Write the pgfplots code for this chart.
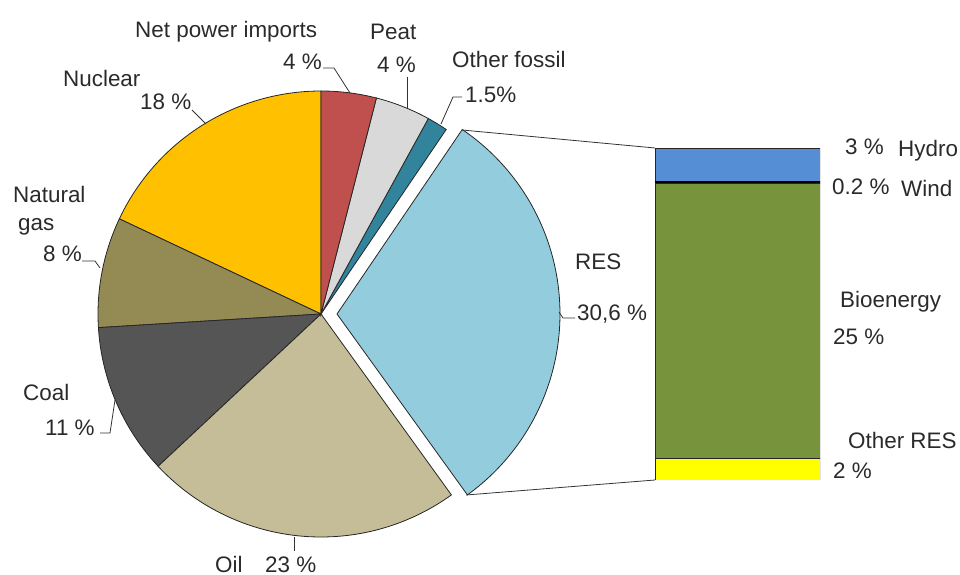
\documentclass[border=0pt]{standalone}
\usepackage{pgfplots}
\pgfplotsset{compat=1.18}
\usepackage{fontspec}
\setmainfont{Liberation Sans}

\definecolor{cNuc}{HTML}{FFC000}
\definecolor{cImp}{HTML}{C0504D}
\definecolor{cPeat}{HTML}{D9D9D9}
\definecolor{cOF}{HTML}{31849B}
\definecolor{cRES}{HTML}{93CDDD}
\definecolor{cOil}{HTML}{C4BD97}
\definecolor{cCoal}{HTML}{555555}
\definecolor{cGas}{HTML}{948A54}
\definecolor{cHydro}{HTML}{558ED5}
\definecolor{cBio}{HTML}{77933C}
\definecolor{cORES}{HTML}{FFFF00}
\definecolor{txt}{HTML}{2A2A2A}

% pie shares (%)
\def\vNuc{18}\def\vGas{8}\def\vCoal{11}\def\vOil{23}
\def\vRES{30.6}\def\vOF{1.5}\def\vPeat{4}\def\vImp{4}
\pgfmathsetmacro\k{360/(\vNuc+\vGas+\vCoal+\vOil+\vRES+\vOF+\vPeat+\vImp)}
\pgfmathsetmacro\aA{90}
\pgfmathsetmacro\aB{\aA+\vNuc*\k}
\pgfmathsetmacro\aC{\aB+\vGas*\k}
\pgfmathsetmacro\aD{\aC+\vCoal*\k}
\pgfmathsetmacro\aE{\aD+\vOil*\k}
\pgfmathsetmacro\aF{\aE+\vRES*\k}
\pgfmathsetmacro\aG{\aF+\vOF*\k}
\pgfmathsetmacro\aH{\aG+\vPeat*\k}
\pgfmathsetmacro\aI{\aH+\vImp*\k}
\def\cx{321}\def\cy{314}\def\R{223}
\pgfmathsetmacro\cxR{\cx+16}

\newcommand\slice[4]{%
\addplot[draw=black!85, line width=0.8pt, fill=#3, domain=#1:#2, samples=90, variable=\t]
  ({#4+\R*cos(\t)},{\cy-\R*sin(\t)}) -- (axis cs:#4,\cy) -- cycle;}

\begin{document}
\begin{tikzpicture}[every node/.style={font=\fontsize{22.5}{26}\selectfont, text=txt, inner sep=0pt}]
\begin{axis}[x=1bp, y=1bp, xmin=0, xmax=960, ymin=0, ymax=575, y dir=reverse,
  hide axis, clip=false, scale only axis]
\coordinate (BL) at (axis cs:0,575);
\coordinate (TR) at (axis cs:960,0);
\slice{\aA}{\aB}{cNuc}{\cx}
\slice{\aB}{\aC}{cGas}{\cx}
\slice{\aC}{\aD}{cCoal}{\cx}
\slice{\aD}{\aE}{cOil}{\cx}
\slice{\aE}{\aF}{cRES}{\cxR}
\slice{\aF}{\aG}{cOF}{\cx}
\slice{\aG}{\aH}{cPeat}{\cx}
\slice{\aH}{\aI}{cImp}{\cx}
% connector lines
\draw[black!80, line width=0.8pt] (axis cs:462,130) -- (axis cs:655,148);
\draw[black!80, line width=0.8pt] (axis cs:466,495) -- (axis cs:655,480);
% leader lines
\draw[black!80, line width=0.8pt] (axis cs:323,68) -- (axis cs:334,68) -- (axis cs:350,93);
\draw[black!80, line width=0.8pt] (axis cs:407,77) -- (axis cs:407,108);
\draw[black!80, line width=0.8pt] (axis cs:462,97) -- (axis cs:453,97) -- (axis cs:441,124);
\draw[black!80, line width=0.8pt] (axis cs:192,110) -- (axis cs:206,124);
\draw[black!80, line width=0.8pt] (axis cs:82,261) -- (axis cs:95,261) -- (axis cs:100,268);
\draw[black!80, line width=0.8pt] (axis cs:100,433) -- (axis cs:110,433) -- (axis cs:115,400);
\draw[black!80, line width=0.8pt] (axis cs:294,537) -- (axis cs:294,551);
\draw[black!80, line width=0.8pt] (axis cs:559,312) -- (axis cs:563,318) -- (axis cs:575,318);
% labels
\node[anchor=base west] at (axis cs:135,38) {Net power imports};
\node[anchor=base west] at (axis cs:283,70) {4 \%};
\node[anchor=base west] at (axis cs:370,40) {Peat};
\node[anchor=base west] at (axis cs:377,73) {4 \%};
\node[anchor=base west] at (axis cs:452,68) {Other fossil};
\node[anchor=base west] at (axis cs:465,103) {1.5\%};
\node[anchor=base west] at (axis cs:63,87) {Nuclear};
\node[anchor=base west] at (axis cs:140,110) {18 \%};
\node[anchor=base west] at (axis cs:13,203) {Natural};
\node[anchor=base west] at (axis cs:18,231) {gas};
\node[anchor=base west] at (axis cs:43,262) {8 \%};
\node[anchor=base west] at (axis cs:23,400) {Coal};
\node[anchor=base west] at (axis cs:45,435) {11 \%};
\node[anchor=base west] at (axis cs:215,572) {Oil};
\node[anchor=base west] at (axis cs:265,572) {23 \%};
\node[anchor=base west] at (axis cs:575,270) {RES};
\node[anchor=base west] at (axis cs:577,320) {30,6 \%};
\node[anchor=base west] at (axis cs:845,155) {3 \%};
\node[anchor=base west] at (axis cs:898,157) {Hydro};
\node[anchor=base west] at (axis cs:832,195) {0.2 \%};
\node[anchor=base west] at (axis cs:901,197) {Wind};
\node[anchor=base west] at (axis cs:840,307) {Bioenergy};
\node[anchor=base west] at (axis cs:833,344) {25 \%};
\node[anchor=base west] at (axis cs:848,448) {Other RES};
\node[anchor=base west] at (axis cs:833,478) {2 \%};
\end{axis}
\begin{axis}[at={(655bp,95bp)}, anchor=south west, scale only axis,
  width=165bp, height=332bp, hide axis, ybar stacked, bar width=165bp,
  xmin=-0.5, xmax=0.5, ymin=0, ymax=30.2]
\addplot[fill=cORES, draw=black!85, line width=0.8pt] coordinates {(0,2)};
\addplot[fill=cBio, draw=black!85, line width=0.8pt] coordinates {(0,25)};
\addplot[fill=black, draw=black, line width=0.8pt] coordinates {(0,0.2)};
\addplot[fill=cHydro, draw=black!85, line width=0.8pt] coordinates {(0,3)};
\end{axis}
\pgfresetboundingbox
\path[use as bounding box] (BL) rectangle (TR);
\end{tikzpicture}
\end{document}
